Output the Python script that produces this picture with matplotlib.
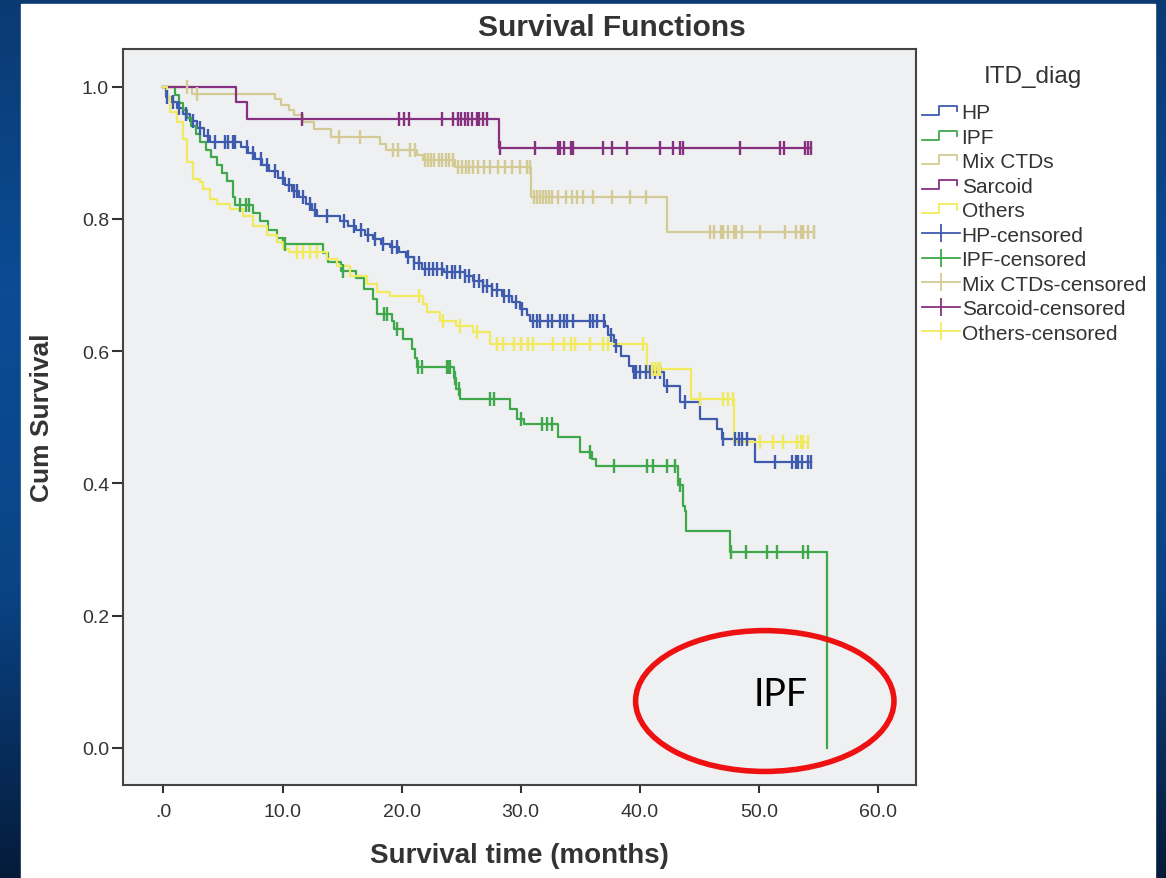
import numpy as np
import matplotlib
matplotlib.use("Agg")
import matplotlib.pyplot as plt
from matplotlib.lines import Line2D
from matplotlib.patches import Ellipse, Rectangle
from matplotlib.legend_handler import HandlerBase
from matplotlib.colors import LinearSegmentedColormap

plt.rcParams['font.family'] = ['Liberation Sans', 'DejaVu Sans']

# ---- data (months, cumulative survival) ----
groups = ["HP", "IPF", "Mix CTDs", "Sarcoid", "Others"]

hp_t = [0, 0.2, 0.6, 1.1, 1.6, 2.2, 2.8, 3.4, 3.9, 6.5, 7.1, 7.7, 8.3, 8.9, 9.6, 10.2, 10.8, 11.4,
        12.0, 12.5, 12.9, 14.8, 15.5, 16.2, 16.9, 17.6, 18.3, 19.0, 19.8, 20.4, 21.0, 21.7, 23.6,
        25.3, 26.0, 26.8, 27.6, 28.4, 29.3, 29.9, 30.5, 30.8, 37.1, 37.3, 37.8, 38.4, 39.1, 39.4,
        42.0, 43.4, 45.1, 46.5, 46.9, 49.7]
hp_s = [1.0, 0.985, 0.977, 0.968, 0.958, 0.948, 0.937, 0.926, 0.917, 0.909, 0.900, 0.891, 0.882,
        0.872, 0.862, 0.852, 0.842, 0.833, 0.823, 0.814, 0.805, 0.797, 0.790, 0.783, 0.776, 0.769,
        0.762, 0.758, 0.750, 0.742, 0.733, 0.725, 0.720, 0.713, 0.706, 0.699, 0.692, 0.684, 0.674,
        0.664, 0.654, 0.646, 0.638, 0.624, 0.608, 0.593, 0.578, 0.568, 0.548, 0.523, 0.498, 0.482,
        0.467, 0.433]
hp_c = [0.3, 0.8, 1.3, 1.9, 2.5, 3.1, 3.7, 4.3, 5.2, 5.4, 5.8, 6.0, 7.0, 7.5, 8.2, 8.7, 9.4, 10.0,
        10.5, 11.0, 11.2, 11.7, 12.3, 12.7, 13.7, 15.2, 16.0, 16.6, 17.2, 17.8, 18.4, 19.2, 19.6,
        20.5, 21.0, 21.5, 22.0, 22.3, 22.6, 23.0, 23.4, 23.8, 24.2, 24.5, 24.9, 25.3, 25.7, 26.1,
        26.5, 26.8, 27.2, 27.6, 28.0, 28.6, 29.0, 29.6, 30.1, 31.0, 31.4, 31.6, 32.3, 32.6, 33.3,
        33.6, 33.9, 34.4, 35.8, 36.1, 36.4, 37.0, 37.6, 38.0, 39.5, 39.7, 40.0, 40.5, 40.9, 41.3,
        41.7, 42.3, 43.8, 47.0, 48.0, 48.3, 48.6, 49.0, 51.4, 52.8, 53.1, 53.3, 53.6, 54.1, 54.4]

ipf_t = [0, 1.0, 1.3, 1.6, 2.0, 2.3, 2.7, 3.1, 3.6, 4.0, 4.5, 4.9, 5.3, 5.8, 6.0, 7.5, 8.1, 8.8,
         9.5, 10.0, 13.4, 13.8, 14.9, 16.2, 16.8, 17.6, 17.9, 19.2, 19.4, 20.1, 20.9, 21.1, 21.3,
         24.4, 24.6, 24.9, 29.1, 29.7, 30.3, 33.1, 35.0, 36.0, 36.3, 43.2, 43.6, 43.8, 43.9, 47.6,
         55.7]
ipf_s = [1.0, 0.988, 0.976, 0.964, 0.952, 0.940, 0.929, 0.917, 0.905, 0.893, 0.881, 0.869, 0.857,
         0.833, 0.821, 0.809, 0.797, 0.784, 0.771, 0.762, 0.748, 0.735, 0.722, 0.710, 0.694, 0.679,
         0.657, 0.646, 0.634, 0.619, 0.604, 0.590, 0.576, 0.560, 0.543, 0.528, 0.513, 0.498, 0.490,
         0.470, 0.448, 0.437, 0.427, 0.397, 0.366, 0.359, 0.328, 0.296, 0.0]
ipf_c = [6.4, 6.9, 7.2, 10.2, 15.1, 18.5, 18.8, 19.6, 21.4, 21.7, 23.8, 23.9, 24.1, 24.5, 24.8,
         27.4, 27.8, 30.0, 31.8, 32.2, 32.6, 35.8, 37.8, 40.6, 41.1, 42.3, 43.0, 43.4, 47.7, 48.9,
         50.7, 51.5, 53.7, 54.1]

mix_t = [0, 2.4, 9.4, 9.9, 10.5, 11.0, 11.7, 12.6, 14.1, 18.2, 18.7, 21.3, 21.8, 24.5, 30.9, 42.3]
mix_s = [1.0, 0.989, 0.982, 0.972, 0.964, 0.957, 0.947, 0.936, 0.924, 0.914, 0.904, 0.896, 0.889,
         0.878, 0.833, 0.780]
mix_c = [2.0, 2.8, 14.7, 16.5, 19.3, 19.7, 20.7, 21.1, 22.0, 22.2, 22.5, 22.7, 23.1, 23.4, 23.7,
         24.0, 24.3, 24.7, 25.1, 25.4, 25.7, 26.0, 26.4, 26.9, 27.4, 28.1, 28.7, 29.3, 29.9, 30.5,
         30.8, 31.1, 31.4, 31.6, 31.9, 32.1, 32.4, 32.6, 33.1, 33.8, 34.3, 34.7, 35.2, 36.1, 37.7,
         39.2, 40.5, 45.9, 46.2, 46.8, 47.0, 47.4, 47.9, 48.1, 48.6, 50.1, 52.2, 53.1, 53.5, 53.7,
         54.1, 54.6]

sar_t = [0, 6.1, 7.0, 28.2]
sar_s = [1.0, 0.977, 0.951, 0.908]
sar_c = [11.6, 19.8, 20.2, 20.6, 23.4, 24.3, 24.7, 25.0, 25.3, 25.6, 25.9, 26.3, 26.5, 26.8, 27.2,
         28.3, 31.2, 33.1, 33.3, 33.6, 34.2, 34.4, 36.9, 37.7, 38.9, 41.7, 42.8, 43.4, 43.6, 48.4,
         51.8, 52.1, 53.9, 54.1, 54.4]

oth_t = [0, 0.3, 0.55, 1.1, 1.6, 2.0, 2.5, 3.1, 3.3, 3.9, 4.5, 5.6, 6.7, 7.5, 8.7, 9.5, 10.0, 10.5,
         13.7, 14.6, 15.7, 17.1, 17.9, 19.0, 21.8, 22.1, 23.2, 24.6, 26.0, 27.4, 40.6, 44.3, 47.9]
oth_s = [1.0, 0.985, 0.962, 0.947, 0.921, 0.886, 0.861, 0.856, 0.846, 0.830, 0.823, 0.815, 0.805,
         0.790, 0.775, 0.765, 0.755, 0.750, 0.740, 0.729, 0.714, 0.702, 0.690, 0.684, 0.672, 0.660,
         0.645, 0.638, 0.629, 0.611, 0.573, 0.528, 0.463]
oth_c = [11.2, 11.7, 12.3, 12.9, 21.5, 23.5, 24.9, 26.3, 28.0, 28.5, 29.4, 30.0, 30.6, 31.0, 32.7,
         33.6, 34.2, 34.6, 35.8, 36.9, 37.3, 40.3, 41.0, 41.3, 41.5, 41.7, 45.1, 47.0, 47.4, 47.8,
         50.1, 51.2, 52.0, 53.2, 53.5, 53.7, 54.1]

colors = ["#3F5BAE", "#3EA84A", "#D3CB93", "#86307F", "#F2EA5E"]
series = [(hp_t, hp_s, hp_c), (ipf_t, ipf_s, ipf_c), (mix_t, mix_s, mix_c),
          (sar_t, sar_s, sar_c), (oth_t, oth_s, oth_c)]

xticks = [0, 10, 20, 30, 40, 50, 60]
xlabels = [".0", "10.0", "20.0", "30.0", "40.0", "50.0", "60.0"]
yticks = [0.0, 0.2, 0.4, 0.6, 0.8, 1.0]
ylabels = ["0.0", "0.2", "0.4", "0.6", "0.8", "1.0"]

# ---- figure / background ----
W, H = 1166, 879
fig = plt.figure(figsize=(W / 100, H / 100), dpi=100)

bg = fig.add_axes([0, 0, 1, 1], zorder=-10)
grad = np.linspace(0, 1, 256).reshape(-1, 1)
cmap = LinearSegmentedColormap.from_list("bg", ["#0A3A72", "#0B4C95", "#0A4486", "#051B3A"])
bg.imshow(grad, aspect="auto", cmap=cmap, extent=[0, 1, 0, 1], origin="upper")
bg.add_patch(Rectangle((21 / W, 0), (1155 - 21) / W, (H - 5) / H, color="white"))
bg.set_xlim(0, 1)
bg.set_ylim(0, 1)
bg.set_axis_off()

ax = fig.add_axes([123 / W, (H - 786) / H, (916 - 123) / W, (786 - 50) / H])
ax.set_facecolor("#EEF0F2")

# ---- curves ----
for (t, s, c), col in zip(series, colors):
    t = list(t)
    s = list(s)
    if s[-1] > 0:
        t_end = max(max(c), t[-1])
        t = t + [t_end]
        s = s + [s[-1]]
    ax.step(t, s, where="post", color=col, lw=1.6, zorder=3)

for (t, s, c), col in zip(series, colors):
    idx = np.searchsorted(np.array(t), np.array(c), side="right") - 1
    ys = np.array(s)[idx]
    ax.plot(c, ys, ls="none", marker="|", markersize=10, mew=1.7, color=col, zorder=4)

ax.set_xlim(-3.4, 63.2)
ax.set_ylim(-0.056, 1.057)
ax.set_xticks(xticks)
ax.set_xticklabels(xlabels)
ax.set_yticks(yticks)
ax.set_yticklabels(ylabels)
ax.tick_params(axis="y", length=8, width=1.5, pad=2, labelsize=14, colors="#333333")
ax.tick_params(axis="x", length=6, width=1.5, pad=7, labelsize=14, colors="#333333")
for sp in ax.spines.values():
    sp.set_color("#444444")
    sp.set_linewidth(1.5)

ax.set_xlabel("Survival time (months)", fontsize=20, fontweight="bold", color="#333333", labelpad=16)
ax.set_ylabel("Cum Survival", fontsize=19, fontweight="bold", color="#333333", labelpad=20)
fig.text(612 / W, 1 - 28 / H, "Survival Functions", ha="center", va="center",
         fontsize=21.5, fontweight="bold", color="#333333")

# ---- legend ----
class StepHandler(HandlerBase):
    def create_artists(self, legend, orig_handle, xdescent, ydescent, width, height, fontsize, trans):
        x0, y0 = -xdescent, -ydescent
        xs = [x0, x0 + 0.45 * width, x0 + 0.45 * width, x0 + 0.92 * width, x0 + 0.92 * width]
        ys = [y0 + 0.2 * height, y0 + 0.2 * height, y0 + 0.8 * height, y0 + 0.8 * height, y0 + 0.45 * height]
        ln = Line2D(xs, ys, color=orig_handle.get_color(), lw=1.3, transform=trans)
        return [ln]

step_h = [Line2D([], [], color=c, lw=1.3) for c in colors]
cens_h = [Line2D([], [], color=c, lw=1.3, marker="|", markersize=13, mew=1.3) for c in colors]
labels = groups + [g + "-censored" for g in groups]
hmap = {h: StepHandler() for h in step_h}
leg = fig.legend(step_h + cens_h, labels, handler_map=hmap, loc="upper left",
                 bbox_to_anchor=(922 / W, 1 - 104 / H), frameon=False, fontsize=15,
                 handlelength=1.8, handletextpad=0.1,
                 labelspacing=0.265, borderpad=0, borderaxespad=0)
for txt in leg.get_texts():
    txt.set_color("#333333")
fig.text(1033 / W, 1 - 77 / H, "ITD_diag", ha="center", va="center", fontsize=17.5, color="#333333")

# ---- annotation ----
ell = Ellipse((50.5, 0.071), 21.7, 0.213, fill=False, ec="#EE1111", lw=4, zorder=6, clip_on=False)
ax.add_patch(ell)
ax.text(51.8, 0.082, "IPF", fontsize=27, family=["Lato", "DejaVu Sans"], ha="center", va="center",
        color="black", zorder=7)

fig.savefig("out.png", dpi=100)
